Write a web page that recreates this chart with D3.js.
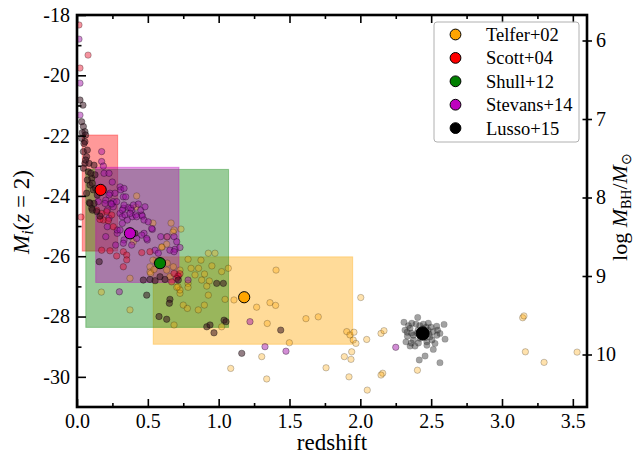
<!DOCTYPE html>
<html>
<head>
<meta charset="utf-8">
<script src="https://cdn.jsdelivr.net/npm/d3@7"></script>
<style>
  html, body { margin: 0; padding: 0; background: #fff; }
  svg { display: block; }
  svg text { font-family: "Liberation Serif", "Times New Roman", Times, serif !important; fill: #000; }
</style>
</head>
<body>
<svg id="chart" width="644" height="456"></svg>
<script>
// ---- sample summaries -------------------------------------------------
const samples   = ["Telfer+02", "Scott+04", "Shull+12", "Stevans+14", "Lusso+15"];
const centerZ   = [1.18, 0.167, 0.586, 0.374, 2.44];
const centerMi  = [-27.36, -23.80, -26.23, -25.24, -28.56];

// redshift / magnitude ranges covered by each composite sample (Lusso+15 has none)
const boxZlo    = [0.538, 0.037, 0.062, 0.132];
const boxZhi    = [1.946, 0.287, 1.070, 0.720];
const boxMiTop  = [-26.02, -21.98, -23.12, -23.05];
const boxMiBot  = [-28.92, -25.83, -28.36, -26.87];

// ---- individual objects [redshift, M_i(z=2)] ---------------------------
const telferPts = [
  [0.416,-24.37],[0.421,-24.00],[0.664,-24.90],[0.685,-25.13],[0.734,-25.10],[0.536,-24.90],
  [0.678,-25.20],[0.635,-25.36],[0.600,-25.70],[0.598,-25.69],[0.633,-25.60],[0.398,-25.52],
  [0.374,-26.73],[0.515,-26.35],[0.515,-26.52],[0.536,-26.13],[0.633,-26.46],[0.680,-26.35],
  [0.656,-26.68],[0.520,-26.57],[0.544,-26.44],[0.637,-26.23],[0.784,-26.10],[0.727,-26.46],
  [0.875,-26.13],[0.927,-25.90],[0.974,-25.90],[0.805,-26.40],[0.858,-26.40],[0.900,-26.59],
  [0.952,-26.32],[1.021,-26.51],[1.068,-26.40],[0.833,-26.62],[0.880,-26.79],[0.934,-26.82],
  [0.784,-26.90],[0.727,-27.23],[0.784,-27.03],[0.750,-27.62],[0.779,-27.73],[0.856,-27.78],
  [0.899,-27.62],[1.045,-27.43],[1.021,-28.34],[0.685,-28.28],[0.374,-27.78],[0.713,-27.01],
  [0.727,-27.12],[0.927,-27.29],[0.916,-26.99],[0.704,-27.03],[0.172,-27.19],[1.108,-27.45],
  [1.268,-27.69],[1.405,-26.46],[1.362,-27.54],[1.402,-27.63],[1.616,-28.07],[1.703,-28.01],
  [1.343,-28.23],[1.499,-28.87],[1.304,-29.33],[1.085,-29.72],[1.339,-30.07],[1.758,-29.70],
  [1.920,-30.00],[2.003,-27.37],[1.904,-28.50],[1.927,-28.61],[1.955,-28.52],[1.950,-28.78],
  [1.969,-28.89],[2.045,-28.76],[1.939,-29.17],[1.887,-29.33],[1.934,-29.42],[2.146,-28.56],
  [2.167,-28.47],[2.158,-29.88],[2.146,-29.94],[2.049,-30.44],[2.403,-29.78],[3.146,-28.04],
  [3.155,-27.98],[3.165,-29.17],[3.297,-29.52],[3.530,-29.18]
];

const scottPts = [
  [0.014,-18.33],[0.078,-19.33],[0.021,-19.76],[0.028,-24.70],
  [0.139,-24.47],[0.174,-24.58],[0.210,-24.52],[0.245,-24.63],[0.186,-24.80],[0.221,-24.82],
  [0.162,-24.78],[0.256,-25.02],[0.174,-25.80],[0.233,-25.82],[0.280,-25.99],[0.327,-25.85],
  [0.351,-25.96],[0.457,-25.88],[0.515,-25.85],[0.351,-26.12],[0.327,-26.35],[0.715,-26.66],
  [0.668,-26.85],[0.727,-26.58],[0.704,-26.73],[0.685,-26.57]
];

const shullPts = [
  [0.021,-20.82],[0.042,-20.99],[0.033,-21.54],[0.045,-21.70],[0.056,-21.87],[0.033,-22.09],
  [0.056,-22.20],[0.045,-22.53],[0.068,-22.70],[0.056,-22.92],[0.045,-23.08],[0.080,-23.20],
  [0.104,-23.41],[0.127,-23.30],[0.092,-23.64],[0.115,-23.80],[0.068,-23.91],[0.087,-24.22],
  [0.104,-24.41],[0.139,-24.52],[0.162,-24.67],[0.037,-21.90],[0.061,-21.98],[0.049,-22.26],
  [0.073,-22.48],[0.061,-22.81],[0.085,-22.92],[0.120,-22.98],[0.097,-23.25],[0.073,-23.47],
  [0.108,-23.58],[0.132,-23.75],[0.143,-23.97],[0.120,-24.25],[0.108,-24.47],[0.092,-24.25],
  [0.409,-25.24],[0.157,-26.18],[0.468,-26.79],[0.515,-26.77],[0.551,-26.81],[0.586,-26.68],
  [0.621,-26.77],[0.715,-26.79],[0.492,-27.29],[0.656,-27.43],[0.652,-27.56],[0.579,-28.00],
  [0.633,-28.09],[0.916,-28.34],[0.939,-28.28],[0.967,-28.54],[1.038,-28.12],[1.052,-28.17],
  [1.438,-28.45],[1.163,-29.22],[0.986,-26.90],[1.033,-26.90]
];

const stevansPts = [
  [0.014,-18.80],[0.021,-20.26],[0.021,-21.32],
  [0.174,-22.53],[0.174,-22.86],[0.186,-23.01],[0.191,-23.25],[0.226,-23.25],[0.249,-23.54],
  [0.304,-23.70],[0.268,-23.91],[0.233,-23.91],[0.327,-24.03],[0.256,-24.19],[0.327,-24.41],
  [0.362,-24.38],[0.386,-24.47],[0.457,-24.63],[0.304,-24.58],[0.256,-24.36],[0.226,-23.97],
  [0.203,-24.14],[0.238,-24.25],[0.309,-23.80],[0.332,-23.75],[0.214,-24.47],[0.226,-24.74],
  [0.214,-25.02],[0.320,-24.47],[0.344,-24.03],[0.332,-24.30],[0.379,-24.41],[0.390,-24.69],
  [0.461,-24.67],[0.473,-24.80],[0.450,-24.47],[0.532,-25.11],[0.591,-25.35],[0.637,-25.35],
  [0.685,-25.35],[0.473,-25.24],[0.496,-25.46],[0.332,-25.46],[0.284,-25.24],[0.273,-25.63],
  [0.320,-24.69],[0.355,-24.80],[0.414,-24.63],[0.320,-24.91],[0.284,-25.13],[0.203,-25.35],
  [0.150,-24.19],[0.198,-24.25],[0.245,-24.27],[0.280,-24.19],[0.398,-24.30],[0.433,-24.27],
  [0.480,-24.36],[0.339,-24.63],[0.374,-24.58],[0.421,-24.69],[0.503,-24.86],[0.527,-25.08],
  [0.704,-25.52],[0.656,-25.80],[0.692,-25.77],[0.304,-25.13],[0.457,-25.30],[0.492,-25.41],
  [0.421,-25.41],[0.327,-25.57],[0.386,-25.63],[0.551,-25.80],[0.574,-25.90],[0.685,-25.85],
  [0.727,-25.71],[0.713,-26.66],[0.784,-26.79],[0.299,-27.18],[1.221,-28.17],[1.327,-29.00],
  [1.475,-29.15],[2.250,-29.02]
];

const lussoPts = [
  [2.405,-28.03],[2.308,-28.19],[2.363,-28.22],[2.480,-28.22],[2.539,-28.32],[2.591,-28.26],
  [2.315,-28.45],[2.351,-28.39],[2.515,-28.50],[2.562,-28.56],[2.598,-28.75],[2.322,-28.84],
  [2.374,-28.78],[2.469,-28.84],[2.527,-28.89],[2.351,-28.98],[2.386,-28.98],[2.515,-29.09],
  [2.457,-29.31],[2.416,-29.44],[2.562,-29.53],[2.374,-28.62],[2.492,-28.67],[2.332,-28.65],
  [2.407,-28.45],[2.478,-28.45],[2.421,-28.72],[2.464,-28.35],[2.506,-28.78],[2.393,-28.25],
  [2.430,-28.60],[2.455,-28.70],[2.400,-28.55],[2.485,-28.58],[2.440,-28.40],[2.340,-28.30],
  [2.360,-28.55],[2.420,-28.30],[2.500,-28.35],[2.540,-28.62],[2.470,-28.95],[2.410,-28.88],
  [2.360,-28.88],[2.545,-28.45],[2.445,-28.25],[2.330,-28.52]
];

// ---- axis ticks -------------------------------------------------------
const zTicks      = [0.0, 0.5, 1.0, 1.5, 2.0, 2.5, 3.0, 3.5];
const zMinorTicks = [0.25, 0.75, 1.25, 1.75, 2.25, 2.75, 3.25];
const miTicks     = [-18, -20, -22, -24, -26, -28, -30];
const miMinorTicks= [-19, -21, -23, -25, -27, -29];
const mbhTicks    = [6, 7, 8, 9, 10];

// ---- styling ----------------------------------------------------------
const sampleColor = ["#ffa500", "#ff0000", "#008000", "#bf00bf", "#000000"];
const dotStyle = {
  telfer:  {fill: "#ffa500", fo: 0.32, so: 0.28},
  scott:   {fill: "#e8102a", fo: 0.45, so: 0.35},
  shull:   {fill: "#3a1420", fo: 0.55, so: 0.45},
  stevans: {fill: "#a010a8", fo: 0.48, so: 0.40},
  lusso:   {fill: "#303030", fo: 0.45, so: 0.15}
};

const svg = d3.select("#chart");
const L = 77, R = 587, T = 15, B = 407;

const x  = d3.scaleLinear().domain([0, 3.6]).range([L, R]);
const y  = d3.scaleLinear().domain([-31, -18]).range([B, T]);
const yR = d3.scaleLinear().domain([6, 10]).range([40.5, 354.5]);

const plot = svg.append("g");
plot.append("defs").append("clipPath").attr("id", "clip")
  .append("rect").attr("x", L).attr("y", T).attr("width", R - L).attr("height", B - T);
const inner = plot.append("g").attr("clip-path", "url(#clip)");

// shaded ranges
inner.selectAll("rect.range")
  .data(boxZlo.map((z0, i) => ({i, z0, z1: boxZhi[i], m0: boxMiTop[i], m1: boxMiBot[i]})))
  .join("rect")
  .attr("class", "range")
  .attr("x", d => x(d.z0))
  .attr("y", d => y(d.m0))
  .attr("width", d => x(d.z1) - x(d.z0))
  .attr("height", d => y(d.m1) - y(d.m0))
  .attr("fill", d => sampleColor[d.i])
  .attr("fill-opacity", 0.4)
  .attr("stroke", d => sampleColor[d.i])
  .attr("stroke-opacity", 0.35)
  .attr("stroke-width", 1);

// individual objects
const groups = [
  ["lusso", lussoPts], ["telfer", telferPts], ["stevans", stevansPts],
  ["scott", scottPts], ["shull", shullPts]
];
groups.forEach(([key, pts]) => {
  const st = dotStyle[key];
  inner.append("g").selectAll("circle")
    .data(pts)
    .join("circle")
    .attr("cx", d => x(d[0]))
    .attr("cy", d => y(d[1]))
    .attr("r", 3.2)
    .attr("fill", st.fill)
    .attr("fill-opacity", st.fo)
    .attr("stroke", "#000")
    .attr("stroke-opacity", st.so)
    .attr("stroke-width", 0.8);
});

// sample averages
inner.append("g").selectAll("circle")
  .data(samples.map((s, i) => i))
  .join("circle")
  .attr("cx", i => x(centerZ[i]))
  .attr("cy", i => y(centerMi[i]))
  .attr("r", i => i === 4 ? 6.5 : 5.6)
  .attr("fill", i => sampleColor[i])
  .attr("stroke", "#000")
  .attr("stroke-width", 1);

// ---- axes -------------------------------------------------------------
const fontTick = 20;
function styleAxis(g) {
  g.attr("font-family", null);
  g.select(".domain").remove();
  g.selectAll(".tick line").attr("stroke", "#000").attr("stroke-width", 1.6);
  g.selectAll(".tick text").attr("font-size", fontTick);
}

const fmtZ = d3.format(".1f");
svg.append("g").attr("transform", `translate(0,${B})`)
  .call(d3.axisBottom(x).tickValues(zTicks).tickSize(-8).tickPadding(7).tickFormat(fmtZ))
  .call(styleAxis);
svg.append("g").attr("transform", `translate(0,${B})`)
  .call(d3.axisBottom(x).tickValues(zMinorTicks).tickSize(-4).tickFormat(""))
  .call(styleAxis);
svg.append("g").attr("transform", `translate(0,${T})`)
  .call(d3.axisTop(x).tickValues(zTicks).tickSize(-8).tickFormat(""))
  .call(styleAxis);
svg.append("g").attr("transform", `translate(0,${T})`)
  .call(d3.axisTop(x).tickValues(zMinorTicks).tickSize(-4).tickFormat(""))
  .call(styleAxis);

svg.append("g").attr("transform", `translate(${L},0)`)
  .call(d3.axisLeft(y).tickValues(miTicks).tickSize(-9).tickPadding(7).tickFormat(d => String(d)))
  .call(styleAxis);
svg.append("g").attr("transform", `translate(${L},0)`)
  .call(d3.axisLeft(y).tickValues(miMinorTicks).tickSize(-4.5).tickFormat(""))
  .call(styleAxis);

const gR = svg.append("g").attr("transform", `translate(${R},0)`)
  .call(d3.axisRight(yR).tickValues(mbhTicks).tickSize(5).tickPadding(4).tickFormat(d => String(d)))
  .call(styleAxis);
gR.selectAll(".tick line").attr("x1", -4.5);

// frame
svg.append("rect")
  .attr("x", L).attr("y", T).attr("width", R - L).attr("height", B - T)
  .attr("fill", "none").attr("stroke", "#000").attr("stroke-width", 2.6);

// ---- axis titles ------------------------------------------------------
svg.append("text")
  .attr("x", (L + R) / 2).attr("y", 450)
  .attr("text-anchor", "middle").attr("font-size", 23)
  .text("redshift");

const yl = svg.append("text")
  .attr("transform", "translate(29,212) rotate(-90)")
  .attr("text-anchor", "middle").attr("font-size", 23);
yl.append("tspan").attr("font-style", "italic").text("M");
yl.append("tspan").attr("font-style", "italic").attr("font-size", 16).attr("dy", 4).text("i");
yl.append("tspan").attr("dy", -4).text("(");
yl.append("tspan").attr("font-style", "italic").text("z");
yl.append("tspan").text(" = 2)");

const yr = svg.append("text")
  .attr("transform", "translate(627,207) rotate(-90)")
  .attr("text-anchor", "middle").attr("font-size", 22);
yr.append("tspan").text("log ");
yr.append("tspan").attr("font-style", "italic").text("M");
yr.append("tspan").attr("font-size", 14).attr("dy", 4).text("BH");
yr.append("tspan").attr("dy", -4).text("/");
yr.append("tspan").attr("font-style", "italic").text("M");
yr.append("tspan").attr("font-size", 14).attr("dy", 4).text("\u2299");

// ---- legend -----------------------------------------------------------
const lg = svg.append("g").attr("transform", "translate(434,22)");
lg.append("rect")
  .attr("width", 145).attr("height", 120).attr("rx", 3)
  .attr("fill", "#fff").attr("fill-opacity", 0.85)
  .attr("stroke", "#b0b0b0").attr("stroke-width", 1);
const items = lg.selectAll("g.item").data(samples).join("g")
  .attr("class", "item")
  .attr("transform", (d, i) => `translate(0,${12.5 + i * 23.4})`);
items.append("circle").attr("cx", 21.5).attr("r", 5.4)
  .attr("fill", (d, i) => sampleColor[i]).attr("stroke", "#000").attr("stroke-width", 1);
items.append("text").attr("x", 52).attr("dy", "0.35em").attr("font-size", 18.5).text(d => d);
</script>
</body>
</html>
